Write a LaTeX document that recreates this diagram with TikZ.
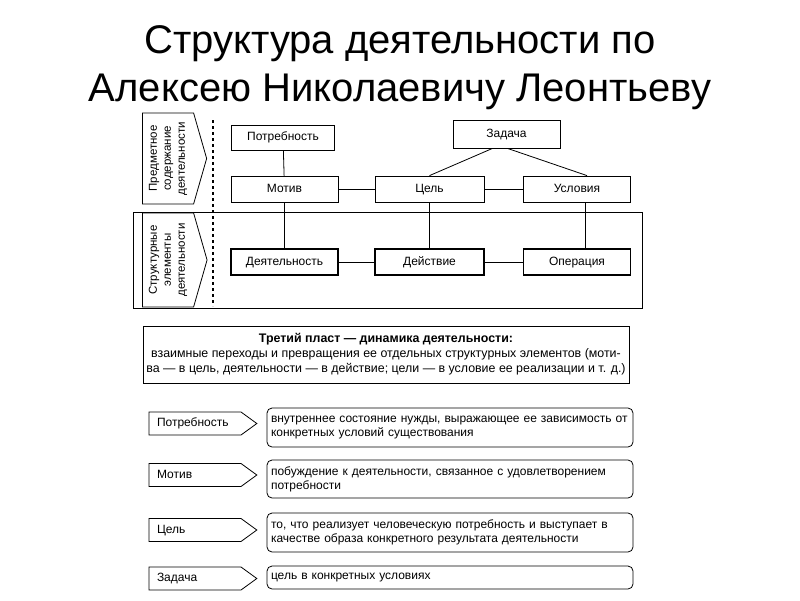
\documentclass[tikz,border=0pt]{standalone}
\usepackage{fontspec}
\setmainfont{Liberation Sans}
\usepackage{tikz}
\usetikzlibrary{shapes.symbols}
\newcommand{\boxFont}[0]{\fontsize{12}{14}\selectfont}
\newcommand{\sideFont}[0]{\fontsize{11.5}{14}\selectfont}

\begin{document}
\begin{tikzpicture}[x=1pt, y=-1pt]
  \tikzset{
    plain/.style={draw, thick, minimum width=107pt, minimum height=26pt, inner sep=2pt,
      text height=9pt, text depth=3pt, font=\boxFont},
    strong/.style={plain, line width=1.4pt},
    side/.style={draw, thick, signal, signal from=nowhere, signal to=south, signal pointer angle=148,
      rotate=90, minimum width=91pt, minimum height=62pt, align=center, inner sep=1pt, font=\sideFont},
    key/.style={draw, thick, signal, signal from=nowhere, signal to=east, signal pointer angle=72,
      minimum width=106pt, minimum height=23pt, text width=76pt, align=left, inner xsep=8pt, inner ysep=2pt,
      text height=9pt, text depth=3pt, font=\boxFont},
    note/.style={draw, thick, rounded corners=5pt, text width=358pt, align=left, inner sep=4pt, font=\boxFont},
    link/.style={thick}
  }
  \useasboundingbox (0,0) rectangle (800,600);
  \node (title) [align=center, font=\fontsize{40}{48}\selectfont] at (400,68)
    {Структура деятельности по\\Алексею Николаевичу Леонтьеву};

  \node (side-1) [side] at (168,158.5) {Предметное\\содержание\\деятельности};
  \node (layer-2) [draw, thick, minimum width=509pt, minimum height=96pt] at (387.5,260) {};
  \node (side-2) [side, minimum width=94pt] at (168,260) {Структурные\\элементы\\деятельности};
  \draw[line width=1.6pt, dash pattern=on 3pt off 3pt] (213,120) -- (213,306);

  \node (box-1-1) [plain, minimum width=103pt, minimum height=25pt] at (283,137.5) {Потребность};
  \node (box-1-2) [plain, minimum height=28pt] at (506.5,134) {Задача};
  \node (box-2-1) [plain] at (284.5,189) {Мотив};
  \node (box-2-2) [plain, minimum width=109pt] at (429.5,189) {Цель};
  \node (box-2-3) [plain] at (577,189) {Условия};
  \node (box-3-1) [strong] at (284.5,262) {Деятельность};
  \node (box-3-2) [strong, minimum width=109pt] at (429.5,262) {Действие};
  \node (box-3-3) [strong] at (577,262) {Операция};

  \draw[link] (box-1-1) -- (box-2-1);
  \draw[link] ([xshift=-14pt]box-1-2.south) -- (box-2-2.north);
  \draw[link] ([xshift=1pt]box-1-2.south) -- ([xshift=10pt]box-2-3.north);
  \draw[link] (box-2-1) -- (box-2-2);
  \draw[link] (box-2-2) -- (box-2-3);
  \draw[link] (box-2-1) -- (box-3-1);
  \draw[link] (box-2-2) -- (box-3-2);
  \draw[link] ([xshift=8pt]box-2-3.south) -- ([xshift=8pt]box-3-3.north);
  \draw[link] (box-3-1) -- (box-3-2);
  \draw[link] (box-3-2) -- (box-3-3);

  \node (layer-3) [draw, thick, minimum width=482pt, minimum height=57pt, align=center,
    font=\fontsize{12.4}{15}\selectfont] at (386,354.5)
    {\textbf{Третий пласт — динамика деятельности:}\\
     взаимные переходы и превращения ее отдельных структурных элементов (моти-\\
     ва — в цель, деятельности — в действие; цели — в условие ее реализации и т. д.)};

  \node (key-1) [key] at (195,423.5) {Потребность};
  \node (key-2) [key] at (195,475) {Мотив};
  \node (key-3) [key] at (195,530) {Цель};
  \node (key-4) [key] at (195,578.5) {Задача};

  \node (def-1) [note, minimum height=39pt] at (450,427.5)
    {внутреннее состояние нужды, выражающее ее зависимость от\\конкретных условий существования};
  \node (def-2) [note, minimum height=38pt] at (450,479)
    {побуждение к деятельности, связанное с удовлетворением\\потребности};
  \node (def-3) [note, minimum height=39pt] at (450,532.5)
    {то, что реализует человеческую потребность и выступает в\\качестве образа конкретного результата деятельности};
  \node (def-4) [note, minimum height=23pt] at (450,577.5) {цель в конкретных условиях};
\end{tikzpicture}
\end{document}
